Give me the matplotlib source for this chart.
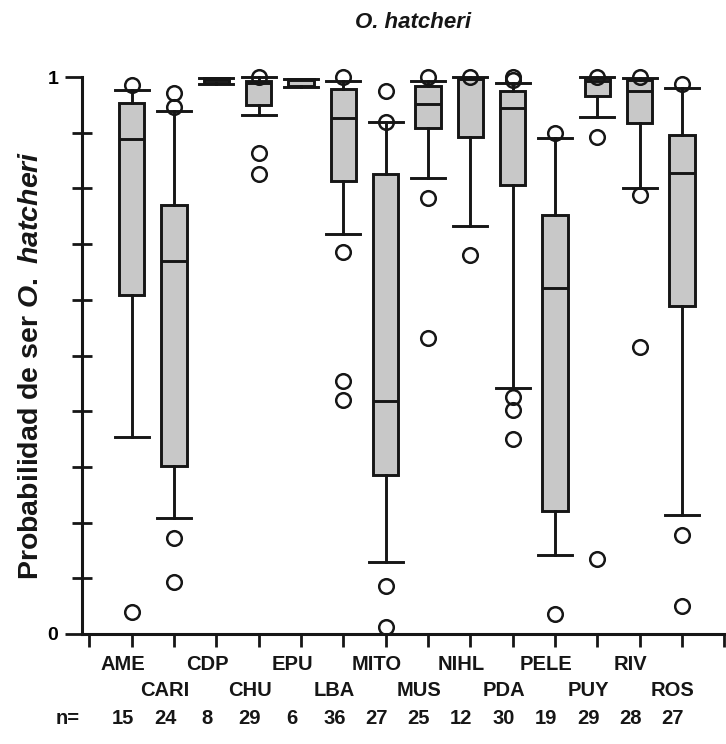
import matplotlib
matplotlib.use("Agg")
import matplotlib.pyplot as plt
import matplotlib.transforms as mtransforms
import numpy as np

plt.rcParams['font.family'] = ['Liberation Sans', 'DejaVu Sans']
plt.rcParams['mathtext.fontset'] = 'custom'
plt.rcParams['mathtext.rm'] = 'Liberation Sans:bold'
plt.rcParams['mathtext.bf'] = 'Liberation Sans:bold'
plt.rcParams['mathtext.it'] = 'Liberation Sans:italic:bold'
plt.rcParams['mathtext.bfit'] = 'Liberation Sans:italic:bold'

# sites, sample sizes and box statistics (probability of O. hatcheri)
sites = ['AME', 'CARI', 'CDP', 'CHU', 'EPU', 'LBA', 'MITO',
         'MUS', 'NIHL', 'PDA', 'PELE', 'PUY', 'RIV', 'ROS']
n_obs = [15, 24, 8, 29, 6, 36, 27, 25, 12, 30, 19, 29, 28, 27]
whislo = [0.353, 0.209, 0.988, 0.931, 0.982, 0.719, 0.129,
          0.819, 0.733, 0.442, 0.141, 0.928, 0.800, 0.214]
q1 = [0.609, 0.302, 0.989, 0.950, 0.983, 0.814, 0.285,
      0.908, 0.893, 0.807, 0.221, 0.966, 0.917, 0.588]
med = [0.889, 0.669, 0.995, 0.990, 0.995, 0.927, 0.418,
       0.952, 0.997, 0.944, 0.621, 0.992, 0.975, 0.827]
q3 = [0.953, 0.771, 0.998, 0.993, 0.997, 0.978, 0.826,
      0.983, 0.999, 0.975, 0.752, 0.998, 0.995, 0.896]
whishi = [0.977, 0.939, 0.999, 1.000, 0.997, 0.993, 0.920,
          0.993, 1.000, 0.989, 0.891, 1.000, 0.998, 0.981]
outliers = [
    [0.040, 0.986],
    [0.093, 0.173, 0.947, 0.971],
    [],
    [0.825, 0.863, 1.000],
    [],
    [0.421, 0.455, 0.685, 1.000],
    [0.012, 0.087, 0.920, 0.975],
    [0.531, 0.782, 1.000],
    [0.680, 1.000],
    [0.350, 0.403, 0.425, 0.995, 1.000],
    [0.036, 0.899],
    [0.134, 0.892, 1.000],
    [0.515, 0.788, 1.000],
    [0.051, 0.178, 0.987],
]

stats = []
for i in range(len(sites)):
    stats.append(dict(label=sites[i], whislo=whislo[i], q1=q1[i], med=med[i],
                      q3=q3[i], whishi=whishi[i], fliers=outliers[i]))

ink = '#161616'
fig = plt.figure(figsize=(7.26, 7.44), dpi=100)
ax = fig.add_axes([82 / 726, 110 / 744, 644 / 726, 557 / 744])

pos = np.arange(1, len(sites) + 1)
lw = 2.1
art = ax.bxp(stats, positions=pos, widths=0.6, capwidths=0.8,
             patch_artist=True, manage_ticks=False,
             boxprops=dict(facecolor='#c8c8c8', edgecolor=ink, linewidth=lw),
             medianprops=dict(color=ink, linewidth=lw),
             whiskerprops=dict(color=ink, linewidth=lw),
             capprops=dict(color=ink, linewidth=lw),
             flierprops=dict(marker='o', markersize=10.5, markerfacecolor='none',
                             markeredgecolor=ink, markeredgewidth=1.8))
# outliers at 1 sit on the top edge, so let everything spill over
for key in art:
    for a in art[key]:
        a.set_clip_on(False)

ax.set_xlim(-0.172, 15.04)
ax.set_ylim(0, 1)
for s in ['top', 'right']:
    ax.spines[s].set_visible(False)
for s in ['left', 'bottom']:
    ax.spines[s].set_linewidth(2.2)
    ax.spines[s].set_color(ink)

ax.set_yticks([0, 1])
ax.set_yticklabels(['0', '1'], fontsize=14, fontweight='bold')
ax.set_yticks(np.arange(0.1, 0.95, 0.1), minor=True)
ax.tick_params(axis='y', which='major', direction='out', length=12, width=2,
               color=ink, pad=5)
ax.tick_params(axis='y', which='minor', direction='inout', length=15, width=2,
               color=ink)
ax.set_xticks(np.arange(0, 16))
ax.set_xticklabels([])
ax.tick_params(axis='x', which='major', direction='out', length=9, width=2,
               color=ink)

# staggered site names and sample sizes under the axis
shift = mtransforms.ScaledTranslation(-9 / 100, 0, fig.dpi_scale_trans)
trans = mtransforms.blended_transform_factory(ax.transData, fig.transFigure) + shift
for i, name in enumerate(sites):
    ypx = 665 if i % 2 == 0 else 690
    ax.text(pos[i], 1 - ypx / 744, name, transform=trans, ha='center',
            va='center', fontsize=14.5, fontweight='bold', color=ink)
    ax.text(pos[i], 1 - 718 / 744, str(n_obs[i]), transform=trans,
            ha='center', va='center', fontsize=14.5, fontweight='bold', color=ink)
fig.text(68 / 726, 1 - 718 / 744, 'n=', ha='center', va='center',
         fontsize=14.5, fontweight='bold', color=ink)

fig.text(31 / 726, 1 - 365 / 744, r'Probabilidad de ser $\mathit{O.\ hatcheri}$',
         rotation=90, ha='center', va='center', fontsize=20.5, fontweight='bold',
         color=ink)
fig.text(413 / 726, 1 - 22 / 744, 'O. hatcheri', ha='center', va='center',
         fontsize=16, fontweight='bold', fontstyle='italic', color=ink)

fig.savefig('out.png', dpi=100)
